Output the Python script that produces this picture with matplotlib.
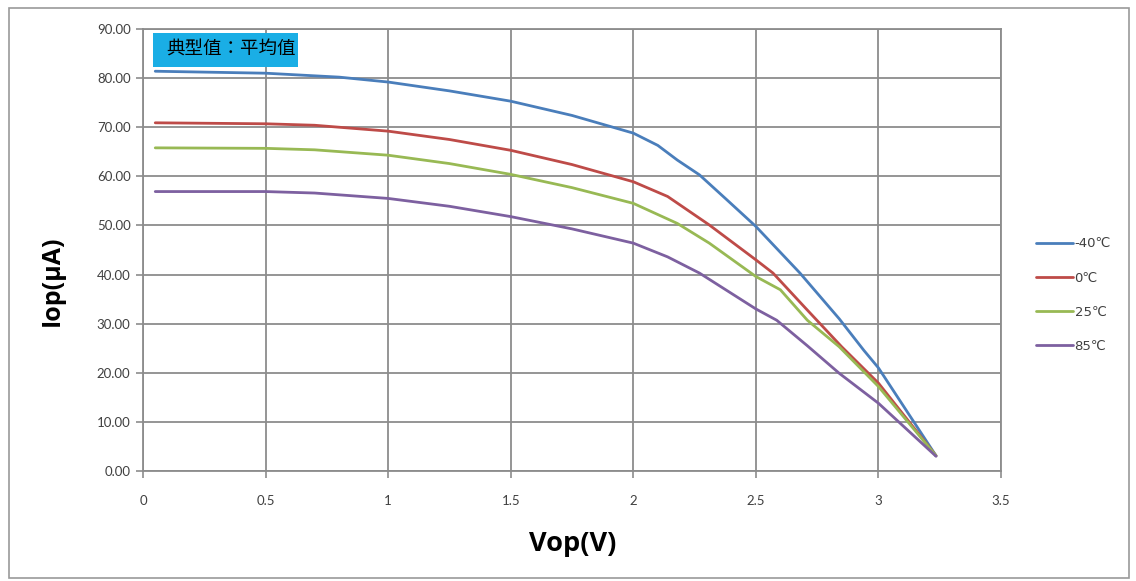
import matplotlib
matplotlib.use("Agg")
import matplotlib.pyplot as plt
from matplotlib.patches import Rectangle

# ---- data ----
series_names = ["-40℃", "0℃", "25℃", "85℃"]

v_m40 = [0.05, 0.5, 0.8, 1.0, 1.25, 1.5, 1.75, 2.0, 2.1, 2.18, 2.27, 2.38, 2.5, 2.68, 2.84, 2.94, 3.0, 3.235]
i_m40 = [81.4, 81.0, 80.2, 79.2, 77.4, 75.3, 72.4, 68.8, 66.3, 63.3, 60.3, 55.3, 49.8, 40.3, 31.0, 24.6, 21.0, 3.1]

v_0 = [0.05, 0.5, 0.7, 1.0, 1.25, 1.5, 1.75, 2.0, 2.14, 2.31, 2.5, 2.57, 2.7, 2.85, 3.0, 3.235]
i_0 = [70.9, 70.7, 70.4, 69.2, 67.5, 65.3, 62.4, 58.9, 55.9, 50.1, 43.0, 40.3, 33.3, 25.3, 17.9, 3.1]

v_25 = [0.05, 0.5, 0.7, 1.0, 1.25, 1.5, 1.75, 2.0, 2.18, 2.31, 2.5, 2.6, 2.71, 2.84, 3.0, 3.235]
i_25 = [65.8, 65.7, 65.4, 64.3, 62.6, 60.4, 57.7, 54.5, 50.4, 46.4, 39.6, 36.9, 30.7, 25.3, 17.2, 3.1]

v_85 = [0.05, 0.5, 0.7, 1.0, 1.25, 1.5, 1.75, 2.0, 2.14, 2.27, 2.5, 2.585, 2.71, 2.84, 3.0, 3.235]
i_85 = [56.9, 56.9, 56.6, 55.5, 53.9, 51.8, 49.3, 46.4, 43.6, 40.3, 33.0, 30.7, 25.5, 19.9, 13.8, 3.0]

x_ticks = [0, 0.5, 1, 1.5, 2, 2.5, 3, 3.5]
x_tick_labels = ["0", "0.5", "1", "1.5", "2", "2.5", "3", "3.5"]
y_ticks = [0, 10, 20, 30, 40, 50, 60, 70, 80, 90]
y_tick_labels = ["%.2f" % t for t in y_ticks]

colors = ["#4a7ebb", "#be4b48", "#98b954", "#7d60a0"]

plt.rcParams['font.family'] = ['Lato', 'DejaVu Sans']

fig = plt.figure(figsize=(11.36, 5.81), dpi=100)
fig.patch.set_facecolor("white")

# outer chart-area border
fig.patches.append(Rectangle((9 / 1136, 3 / 581), 1120 / 1136, 570 / 581,
                             transform=fig.transFigure, fill=False,
                             edgecolor="#9a9a9a", linewidth=1.2))

ax = fig.add_axes([143 / 1136, 110 / 581, 858 / 1136, 442 / 581])

data = [(v_m40, i_m40), (v_0, i_0), (v_25, i_25), (v_85, i_85)]
for (vx, iy), name, c in zip(data, series_names, colors):
    ax.plot(vx, iy, color=c, linewidth=2.0, label=name, solid_joinstyle="round",
            solid_capstyle="round")

ax.set_xlim(0, 3.5)
ax.set_ylim(0, 90)
ax.set_xticks(x_ticks)
ax.set_xticklabels(x_tick_labels)
ax.set_yticks(y_ticks)
ax.set_yticklabels(y_tick_labels)
ax.grid(True, color="#8c8c8c", linewidth=1.3)
ax.set_axisbelow(True)
for s in ax.spines.values():
    s.set_color("#8c8c8c")
    s.set_linewidth(1.3)
ax.tick_params(axis="both", colors="#8c8c8c", labelcolor="#404040",
               labelsize=9.5, length=5, width=1.2, direction="out")
ax.tick_params(axis="x", pad=12)
ax.tick_params(axis="y", pad=4)

ax.set_xlabel("Vop(V)", fontsize=19.5, fontweight="bold",
              family=["Open Sans", "DejaVu Sans"], va="center")
ax.xaxis.set_label_coords((573 - 143) / 858, (471 - 544) / 442)
ax.set_ylabel("Iop(μA)", fontsize=18, fontweight="bold",
              family=["Open Sans", "DejaVu Sans"], va="center")
ax.yaxis.set_label_coords((52 - 143) / 858, (471 - 281) / 442)

# annotation box
ax.add_patch(Rectangle((0.0117, 0.914), 0.169, 0.077, transform=ax.transAxes,
                       facecolor="#1aaee5", edgecolor="none", zorder=4))
ax.text(0.027, 0.9525, "典型值：平均值", transform=ax.transAxes,
        fontsize=13.3, color="black", va="center", ha="left", zorder=5,
        family=["Noto Sans CJK TC", "DejaVu Sans"])

leg = ax.legend(loc="center left", bbox_to_anchor=(1.035, 0.398), frameon=False,
                fontsize=9.5, handlelength=2.8, handletextpad=0.1,
                labelspacing=1.6, borderaxespad=0)
for t in leg.get_texts():
    t.set_color("#404040")
    t.set_family(["DejaVu Sans"])

fig.savefig("out.png", dpi=100, facecolor="white")
